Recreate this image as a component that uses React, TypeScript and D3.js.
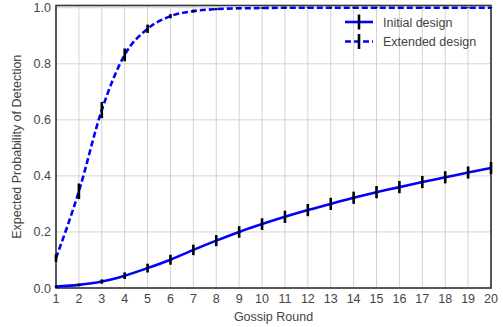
import React, { useEffect, useRef } from 'react';
import * as d3 from 'd3';

const rounds = d3.range(1, 21);
const initialMean = [0.005, 0.011, 0.023, 0.044, 0.071, 0.101, 0.136, 0.169, 0.2, 0.228, 0.254, 0.278, 0.3, 0.322, 0.342, 0.36, 0.378, 0.395, 0.412, 0.428];
const initialErr = [0.002, 0.003, 0.006, 0.01, 0.014, 0.016, 0.017, 0.018, 0.019, 0.019, 0.02, 0.02, 0.02, 0.02, 0.02, 0.02, 0.02, 0.02, 0.02, 0.02];
const extendedMean = [0.107, 0.345, 0.635, 0.832, 0.925, 0.97, 0.988, 0.995, 0.998, 0.999, 1, 1, 1, 1, 1, 1, 1, 1, 1, 1];
const extendedErr = [0.012, 0.026, 0.027, 0.021, 0.013, 0.006, 0.003, 0.002, 0.001, 0.001, 0, 0, 0, 0, 0, 0, 0, 0, 0, 0];
const yTicks = [0, 0.2, 0.4, 0.6, 0.8, 1.0];

const App = () => {
  const svgRef = useRef<SVGSVGElement>(null);

  useEffect(() => {
    const svg = d3.select(svgRef.current);
    svg.selectAll('*').remove();

    const margin = { top: 5.5, right: 12, bottom: 39, left: 56 };
    const W = 503, H = 327;
    const width = W - margin.left - margin.right;
    const height = H - margin.top - margin.bottom;
    const font = 'Liberation Sans, Arial, sans-serif';
    const fs = 12.5;

    const x = d3.scaleLinear().domain([1, 20]).range([0, width]);
    const y = d3.scaleLinear().domain([0, 1.008]).range([height, 0]);

    const g = svg.append('g').attr('transform', `translate(${margin.left},${margin.top})`);

    // grid
    g.selectAll('.vgrid').data(rounds).enter().append('line')
      .attr('x1', d => x(d)).attr('x2', d => x(d)).attr('y1', 0).attr('y2', height)
      .attr('stroke', '#d3d3d3').attr('stroke-width', 1);
    g.selectAll('.hgrid').data(yTicks).enter().append('line')
      .attr('x1', 0).attr('x2', width).attr('y1', d => y(d)).attr('y2', d => y(d))
      .attr('stroke', '#d3d3d3').attr('stroke-width', 1);

    // frame
    g.append('rect').attr('width', width).attr('height', height)
      .attr('fill', 'none').attr('stroke', '#333').attr('stroke-width', 1.6);

    // tick labels
    g.selectAll('.xt').data(rounds).enter().append('text')
      .attr('x', d => x(d)).attr('y', height + 15)
      .attr('text-anchor', 'middle').attr('font-family', font).attr('font-size', fs)
      .attr('fill', '#444').text(d => d);
    g.selectAll('.yt').data(yTicks).enter().append('text')
      .attr('x', -5).attr('y', d => y(d) + 4.5)
      .attr('text-anchor', 'end').attr('font-family', font).attr('font-size', fs)
      .attr('fill', '#444').text(d => d.toFixed(1));

    g.append('text').attr('x', width / 2).attr('y', height + 32.5)
      .attr('text-anchor', 'middle').attr('font-family', font).attr('font-size', fs)
      .attr('fill', '#444').text('Gossip Round');
    g.append('text').attr('transform', `translate(${-35.5},${height / 2}) rotate(-90)`)
      .attr('text-anchor', 'middle').attr('font-family', font).attr('font-size', fs)
      .attr('fill', '#444').text('Expected Probability of Detection');

    const line = d3.line<number>().x((_, i) => x(rounds[i])).y(d => y(d)).curve(d3.curveMonotoneX);

    const series = [
      { mean: initialMean, err: initialErr, dash: null, name: 'Initial design' },
      { mean: extendedMean, err: extendedErr, dash: '6,3', name: 'Extended design' },
    ];

    series.forEach(s => {
      g.append('path').attr('d', line(s.mean))
        .attr('fill', 'none').attr('stroke', '#0000ff').attr('stroke-width', 2.6)
        .attr('stroke-dasharray', s.dash);
      g.selectAll(null).data(s.mean).enter().append('line')
        .attr('x1', (_, i) => x(rounds[i])).attr('x2', (_, i) => x(rounds[i]))
        .attr('y1', (d, i) => y(d - s.err[i]) + 0.5).attr('y2', (d, i) => y(d + s.err[i]) - 0.5)
        .attr('stroke', '#000').attr('stroke-width', 2.6);
    });

    // legend
    const leg = g.append('g').attr('transform', `translate(${289},${16.5})`);
    series.forEach((s, i) => {
      const yy = i * 19.5;
      leg.append('line').attr('x1', 0).attr('x2', 28).attr('y1', yy).attr('y2', yy)
        .attr('stroke', '#0000ff').attr('stroke-width', 2.6).attr('stroke-dasharray', s.dash);
      leg.append('line').attr('x1', 14).attr('x2', 14).attr('y1', yy - 7.5).attr('y2', yy + 7.5)
        .attr('stroke', '#000').attr('stroke-width', 2.6);
      leg.append('text').attr('x', 38).attr('y', yy + 4.5)
        .attr('font-family', font).attr('font-size', fs).attr('fill', '#444').text(s.name);
    });
  }, []);

  return <svg ref={svgRef} width={503} height={327} style={{ position: 'absolute', left: 0, top: 0 }}></svg>;
};

export default App;
